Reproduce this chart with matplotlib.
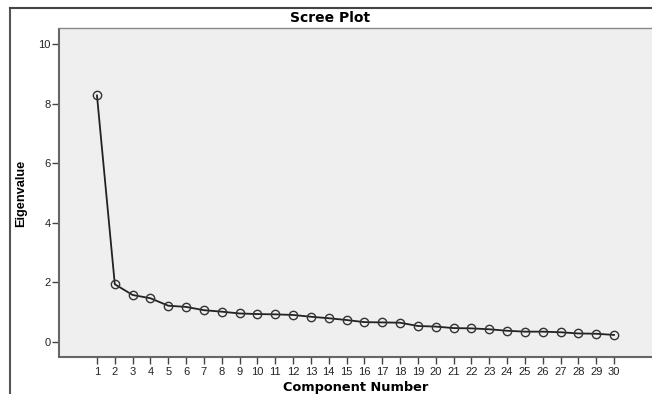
import matplotlib
matplotlib.use("Agg")
import matplotlib.pyplot as plt
from matplotlib.lines import Line2D

components = list(range(1, 31))
eigenvalues = [8.27, 1.94, 1.58, 1.47, 1.22, 1.18, 1.07, 1.02, 0.96, 0.94,
               0.93, 0.91, 0.85, 0.80, 0.74, 0.67, 0.66, 0.65, 0.54, 0.52,
               0.47, 0.46, 0.43, 0.38, 0.35, 0.35, 0.33, 0.29, 0.28, 0.24]
y_ticks = [0, 2, 4, 6, 8, 10]

plt.rcParams['font.family'] = ['Liberation Sans', 'DejaVu Sans']

W, H = 652, 394
fig = plt.figure(figsize=(W / 100, H / 100), dpi=100)
fig.patch.set_facecolor('white')

# plot area
ax = fig.add_axes([59 / W, (H - 357) / H, 1 - 59 / W, (357 - 29) / H])
ax.set_facecolor('#efefef')
ax.plot(components, eigenvalues, color='#222222', lw=1.3,
        marker='o', ms=6, mfc='none', mec='#333333', mew=1.0)

ax.set_xlim(-1.13, 32.13)
ax.set_ylim(-0.5, 10.5)
ax.set_xticks(components)
ax.set_yticks(y_ticks)
ax.tick_params(axis='both', direction='out', length=5, width=1.0,
               colors='#444444', labelsize=8, labelcolor='#222222')
ax.tick_params(axis='x', pad=2)
ax.tick_params(axis='y', pad=1)

for side in ['top', 'right']:
    ax.spines[side].set_visible(False)
for side in ['left', 'bottom']:
    ax.spines[side].set_color('#666666')
    ax.spines[side].set_linewidth(1.5)

ax.set_xlabel("Component Number", fontsize=9.3, fontweight='bold', labelpad=3,
              family='DejaVu Sans')
ax.set_ylabel("Eigenvalue", fontsize=9.2, fontweight='bold', labelpad=8)

# outer frame and title band
fig.add_artist(Line2D([10 / W, 10 / W], [0, 1 - 8 / H], color='#555555', lw=1.5))
fig.add_artist(Line2D([10 / W, 1], [1 - 8 / H, 1 - 8 / H], color='#444444', lw=1.5))
fig.add_artist(Line2D([59 / W, 1], [1 - 28 / H, 1 - 28 / H], color='#888888', lw=1.0))
fig.text(330 / W, 1 - 18 / H, "Scree Plot", ha='center', va='center',
         fontsize=10, fontweight='bold', family='DejaVu Sans')

plt.savefig('out.png', dpi=100)
